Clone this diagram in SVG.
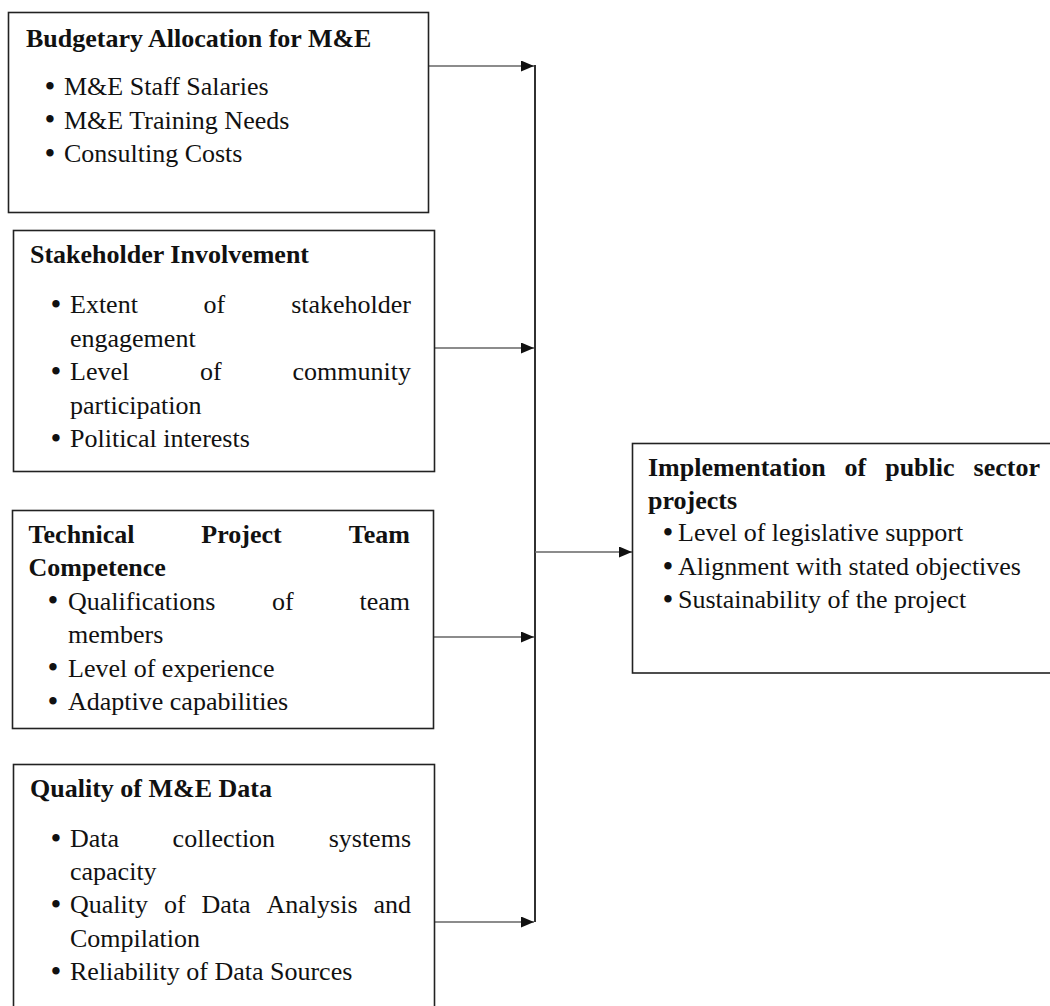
<svg xmlns="http://www.w3.org/2000/svg" width="1050" height="1006" viewBox="0 0 1050 1006">
<style>
.box{fill:#fff;stroke:#222;stroke-width:1.6}
.t{font-family:"Liberation Serif","Times New Roman",serif;font-size:26px;fill:#111}
.b{font-weight:bold}
.dot{text-anchor:middle;font-size:31px}
.e{text-anchor:end}
.h{stroke:#666;stroke-width:1.4;fill:none}
.v{stroke:#1a1a1a;stroke-width:1.8;fill:none}
</style>
<defs>
<marker id="ah" markerUnits="userSpaceOnUse" markerWidth="13" markerHeight="11" refX="13" refY="5.5" orient="auto">
<path d="M0,0 L13,5.5 L0,11 z" fill="#111"/>
</marker>
</defs>
<rect width="1050" height="1006" fill="#fff"/>

<g id="connectors">
<line class="v" x1="535" y1="65" x2="535" y2="922"/>
<line class="h" x1="428.5" y1="66" x2="534" y2="66" marker-end="url(#ah)"/>
<line class="h" x1="435" y1="348" x2="534" y2="348" marker-end="url(#ah)"/>
<line class="h" x1="433.5" y1="637" x2="534" y2="637" marker-end="url(#ah)"/>
<line class="h" x1="435" y1="922" x2="534" y2="922" marker-end="url(#ah)"/>
<line class="h" x1="535" y1="552" x2="632" y2="552" marker-end="url(#ah)"/>
</g>

<g id="budgetary">
<rect class="box" x="8.5" y="12.5" width="420" height="200"/>
<text class="t b" x="26" y="47">Budgetary Allocation for M&amp;E</text>
<text class="t dot" x="50" y="96.5">•</text><text class="t" x="64" y="95">M&amp;E Staff Salaries</text>
<text class="t dot" x="50" y="130">•</text><text class="t" x="64" y="128.5">M&amp;E Training Needs</text>
<text class="t dot" x="50" y="163.5">•</text><text class="t" x="64" y="162">Consulting Costs</text>
</g>

<g id="stakeholder">
<rect class="box" x="13.5" y="230.5" width="421" height="241"/>
<text class="t b" x="30" y="263">Stakeholder Involvement</text>
<text class="t dot" x="56" y="314.5">•</text>
<text class="t" y="313"><tspan x="70">Extent</tspan><tspan x="203.6">of</tspan></text><text class="t e" x="411" y="313">stakeholder</text>
<text class="t" x="70" y="346.5">engagement</text>
<text class="t dot" x="56" y="381.5">•</text>
<text class="t" y="380"><tspan x="70">Level</tspan><tspan x="200">of</tspan></text><text class="t e" x="411" y="380">community</text>
<text class="t" x="70" y="413.5">participation</text>
<text class="t dot" x="56" y="448.5">•</text><text class="t" x="70" y="447">Political interests</text>
</g>

<g id="technical">
<rect class="box" x="12.5" y="510.5" width="421" height="218"/>
<text class="t b" y="543"><tspan x="28.6">Technical</tspan><tspan x="201.3">Project</tspan></text><text class="t b e" x="410" y="543">Team</text>
<text class="t b" x="28.6" y="576">Competence</text>
<text class="t dot" x="53" y="611">•</text>
<text class="t" y="609.5"><tspan x="68">Qualifications</tspan><tspan x="272">of</tspan></text><text class="t e" x="410" y="609.5">team</text>
<text class="t" x="68" y="643">members</text>
<text class="t dot" x="53" y="678">•</text><text class="t" x="68" y="676.5">Level of experience</text>
<text class="t dot" x="53" y="711.5">•</text><text class="t" x="68" y="710">Adaptive capabilities</text>
</g>

<g id="quality">
<rect class="box" x="13.5" y="764.5" width="421" height="260"/>
<text class="t b" x="30" y="797">Quality of M&amp;E Data</text>
<text class="t dot" x="56" y="848.5">•</text>
<text class="t" y="847"><tspan x="70">Data</tspan><tspan x="172.6">collection</tspan></text><text class="t e" x="411" y="847">systems</text>
<text class="t" x="70" y="880">capacity</text>
<text class="t dot" x="56" y="914.5">•</text>
<text class="t" y="913"><tspan x="70">Quality</tspan><tspan x="163.9">of</tspan><tspan x="201.5">Data</tspan><tspan x="266.5">Analysis</tspan></text><text class="t e" x="411" y="913">and</text>
<text class="t" x="70" y="946.5">Compilation</text>
<text class="t dot" x="56" y="981.5">•</text><text class="t" x="70" y="980">Reliability of Data Sources</text>
</g>

<g id="implementation">
<rect class="box" x="632.5" y="443.5" width="430" height="229.5"/>
<text class="t b" y="476"><tspan x="648">Implementation</tspan><tspan x="844.6">of</tspan><tspan x="885.2">public</tspan></text><text class="t b e" x="1040" y="476">sector</text>
<text class="t b" x="648" y="509">projects</text>
<text class="t dot" x="668" y="542.5">•</text><text class="t" x="678" y="541">Level of legislative support</text>
<text class="t dot" x="668" y="576.5">•</text><text class="t" x="678" y="575">Alignment with stated objectives</text>
<text class="t dot" x="668" y="609.5">•</text><text class="t" x="678" y="608">Sustainability of the project</text>
</g>
</svg>
